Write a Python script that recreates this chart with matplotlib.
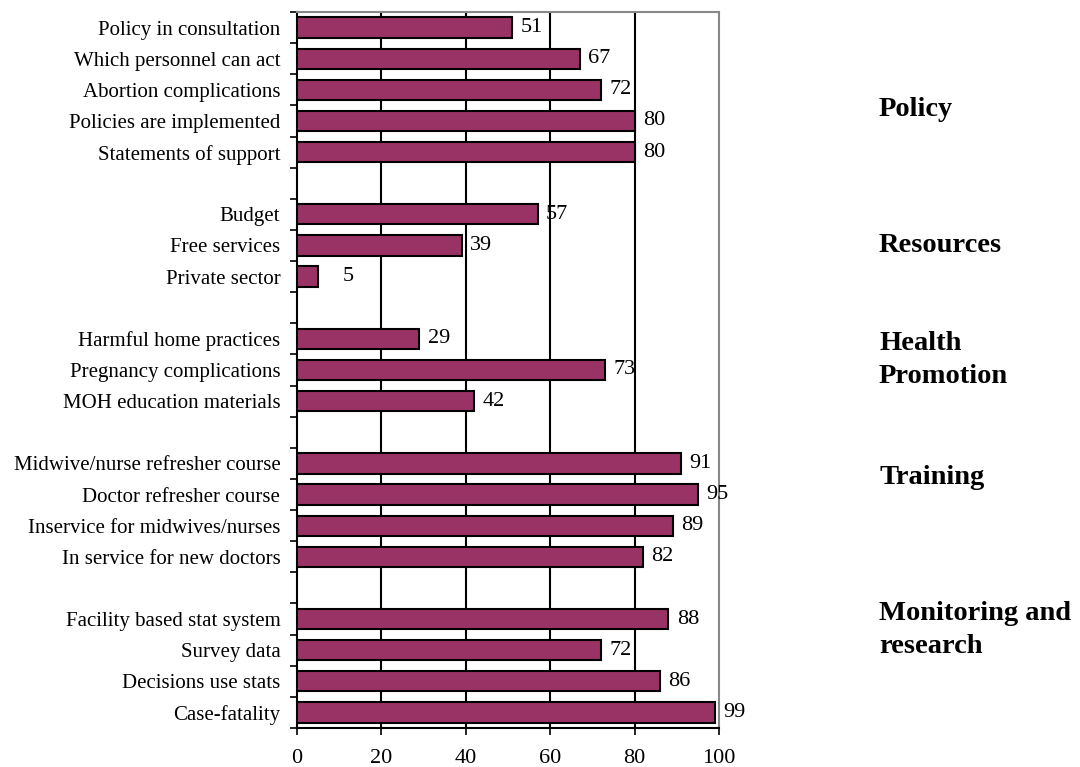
import matplotlib
matplotlib.use("Agg")
from matplotlib import pyplot as plt

# groups of items, top to bottom
policy_labels = ['Policy in consultation', 'Which personnel can act',
                 'Abortion complications', 'Policies are implemented',
                 'Statements of support']
policy_values = [51, 67, 72, 80, 80]
resources_labels = ['Budget', 'Free services', 'Private sector']
resources_values = [57, 39, 5]
health_labels = ['Harmful home practices', 'Pregnancy complications',
                 'MOH education materials']
health_values = [29, 73, 42]
training_labels = ['Midwive/nurse refresher course', 'Doctor refresher course',
                   'Inservice for midwives/nurses', 'In service for new doctors']
training_values = [91, 95, 89, 82]
monitoring_labels = ['Facility based stat system', 'Survey data',
                     'Decisions use stats', 'Case-fatality']
monitoring_values = [88, 72, 86, 99]

group_names = ['Policy', 'Resources', 'Health\nPromotion', 'Training',
               'Monitoring and\nresearch']
group_label_y = [109, 245, 360, 478, 630]  # pixel rows of the group titles

groups = [(policy_labels, policy_values), (resources_labels, resources_values),
          (health_labels, health_values), (training_labels, training_values),
          (monitoring_labels, monitoring_values)]

# slot positions with one empty slot between groups
labels, values, pos = [], [], []
slot = 0
for labs, vals in groups:
    for l, v in zip(labs, vals):
        labels.append(l)
        values.append(v)
        pos.append(slot + 0.5)
        slot += 1
    slot += 1
n_slots = slot - 1

plt.rcParams['font.family'] = ['Liberation Serif', 'DejaVu Serif']

W, H = 1080, 767
fig = plt.figure(figsize=(W / 100, H / 100), dpi=100)
ax = fig.add_axes([297 / W, 1 - 728 / H, (719 - 297) / W, (728 - 12) / H])

ax.barh(pos, values, height=0.65, color='#993366', edgecolor='black',
        linewidth=1.5, zorder=3)
for p, v in zip(pos, values):
    off = 6 if v > 10 else 18
    ax.annotate(str(v), (v, p), xytext=(off, 0), textcoords='offset points',
                va='center', ha='left', fontsize=16, zorder=4)

ax.set_xlim(0, 100)
ax.set_ylim(n_slots, 0)
ax.set_xticks([0, 20, 40, 60, 80, 100])
ax.tick_params(axis='x', labelsize=16, length=5, width=1.2, pad=10)
ax.set_yticks(pos)
ax.set_yticklabels(labels, fontsize=15)
ax.set_yticks(range(n_slots + 1), minor=True)
ax.tick_params(axis='y', which='major', length=0, pad=12)
ax.tick_params(axis='y', which='minor', length=5, width=1.2)

for x in [20, 40, 60, 80]:
    ax.axvline(x, color='black', linewidth=1.5, zorder=1)

for s in ['left', 'bottom']:
    ax.spines[s].set_color('black')
    ax.spines[s].set_linewidth(1.5)
for s in ['top', 'right']:
    ax.spines[s].set_color('#888888')
    ax.spines[s].set_linewidth(1.5)

for name, y in zip(group_names, group_label_y):
    fig.text(879 / W, 1 - y / H, name, fontsize=20.5, fontweight='bold',
             va='center', ha='left', linespacing=1.45)

fig.savefig('out.png', dpi=100)
